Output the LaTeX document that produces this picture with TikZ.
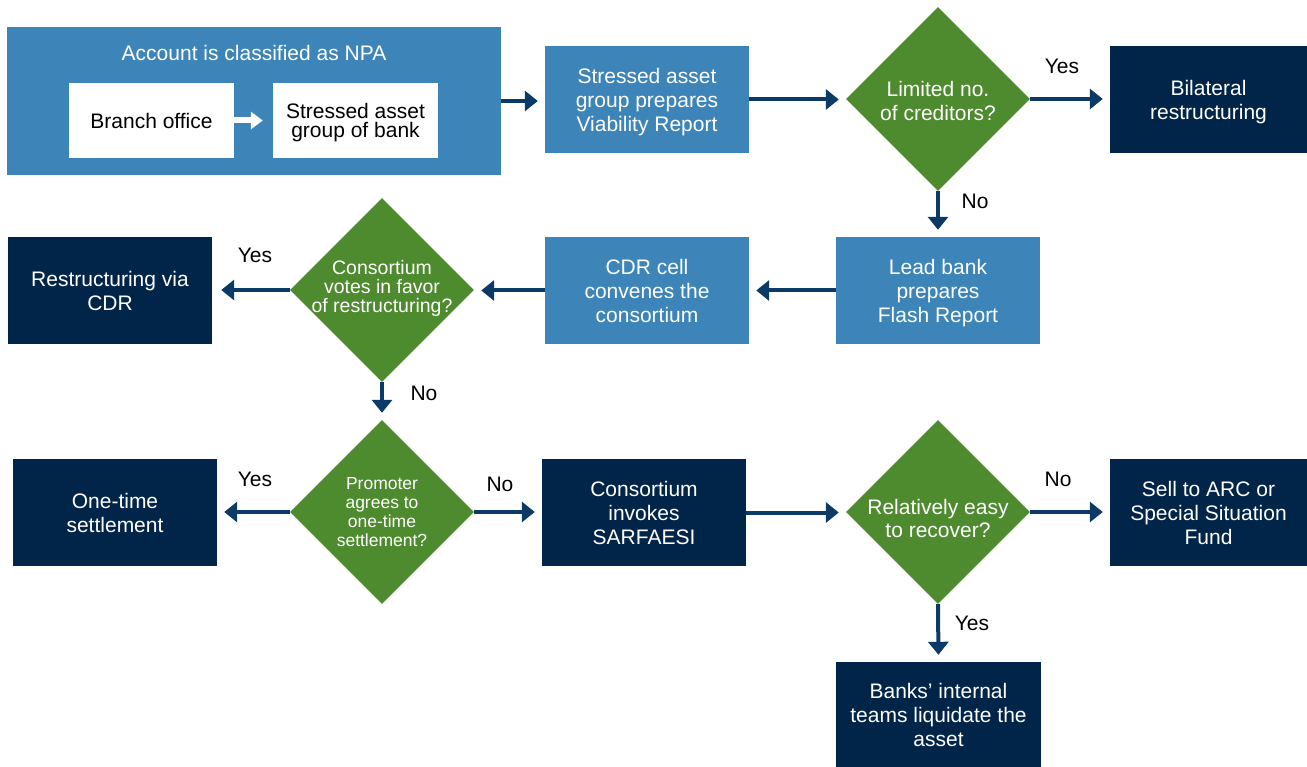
\documentclass[tikz,border=0pt]{standalone}
\usepackage{fontspec}
\setmainfont{Liberation Sans}
\usetikzlibrary{shapes.geometric,arrows.meta}
\definecolor{midblue}{HTML}{3D85B8}
\definecolor{navy}{HTML}{002549}
\definecolor{dgreen}{HTML}{4E8B2E}
\definecolor{arrowblue}{HTML}{0B3A66}
\tikzset{
  box/.style={rectangle, inner sep=0pt, align=center, font=\fontsize{21}{24}\selectfont},
  lightbox/.style={box, fill=midblue, text=white, text depth=-3pt},
  darkbox/.style={box, fill=navy, text=white, text depth=-3pt},
  whitebox/.style={box, fill=white, text=black, text depth=0pt},
  dec/.style={diamond, aspect=1, fill=dgreen, inner sep=0pt, minimum width=184pt, minimum height=184pt},
  dtext/.style={align=center, text=white, inner sep=0pt},
  lbl/.style={text=black, font=\fontsize{21}{24}\selectfont, inner sep=0pt},
  arr/.style={draw=arrowblue, line width=4pt, -{Triangle[width=20pt,length=13pt]}, shorten >=7pt},
  warr/.style={draw=white, line width=6pt, -{Triangle[width=17pt,length=12pt]}, shorten >=10pt},
}
\begin{document}
\begin{tikzpicture}[x=1pt,y=-1pt]
\useasboundingbox (0,0) rectangle (1307,767);
% top-left compound box
\node[lightbox, minimum width=494pt, minimum height=148pt] (outer) at (254,101) {};
\node[box, text=white] (title) at (254,53) {Account is classified as NPA};
\node[whitebox, minimum width=165pt, minimum height=75pt] (branch) at (151.5,120.5) {Branch office};
\node[whitebox, minimum width=165pt, minimum height=75pt, font=\fontsize{21}{19}\selectfont] (sag) at (355.5,120.5) {Stressed asset\\group of bank};
\draw[warr] (branch.east) -- (sag.west);
% row 1
\node[lightbox, minimum width=204pt, minimum height=107pt] (via) at (647,99.5) {Stressed asset\\group prepares\\Viability Report};
\node[dec] (d1) at (938,99) {};
\node[dtext, font=\fontsize{21}{24}\selectfont] (d1t) at (938,101) {Limited no.\\of creditors?};
\node[darkbox, minimum width=197pt, minimum height=107pt] (bil) at (1208.5,99.5) {Bilateral\\restructuring};
% row 2
\node[lightbox, minimum width=204pt, minimum height=107pt] (lead) at (938,290.5) {Lead bank\\prepares\\Flash Report};
\node[lightbox, minimum width=204pt, minimum height=107pt] (cdr) at (647,290.5) {CDR cell\\convenes the\\consortium};
\node[dec] (d2) at (382,290) {};
\node[dtext, font=\fontsize{19.5}{19}\selectfont] (d2t) at (382,288) {Consortium\\votes in favor\\of restructuring?};
\node[darkbox, minimum width=204pt, minimum height=107pt] (rcdr) at (110,290.5) {Restructuring via\\CDR};
% row 3
\node[dec] (d3) at (382,512) {};
\node[dtext, font=\fontsize{17.5}{19}\selectfont] (d3t) at (382,512) {Promoter\\agrees to\\one-time\\settlement?};
\node[darkbox, minimum width=204pt, minimum height=107pt] (ots) at (115,512.5) {One-time\\settlement};
\node[darkbox, minimum width=204pt, minimum height=107pt] (sarf) at (644,512.5) {Consortium\\invokes\\SARFAESI};
\node[dec] (d4) at (938,512) {};
\node[dtext, font=\fontsize{21}{23}\selectfont] (d4t) at (938,518) {Relatively easy\\to recover?};
\node[darkbox, minimum width=197pt, minimum height=107pt] (sell) at (1208.5,512.5) {Sell to ARC or\\Special Situation\\Fund};
\node[darkbox, minimum width=205pt, minimum height=105pt] (banks) at (938.5,714.5) {Banks’ internal\\teams liquidate the\\asset};
% connectors
\draw[arr] (outer.east) -- (outer.east -| via.west);
\draw[arr] (via.east) -- (via.east -| d1.west);
\draw[arr] (d1.south) -- (lead.north);
\draw[arr] (d1.east) -- (d1.east -| bil.west);
\draw[arr] (lead.west) -- (cdr.east);
\draw[arr] (cdr.west) -- (cdr.west -| d2.east);
\draw[arr, shorten >=9pt] (d2.west) -- (d2.west -| rcdr.east);
\draw[arr, shorten >=7pt] (d2.south) -- (d3.north);
\draw[arr] (d3.west) -- (d3.west -| ots.east);
\draw[arr] (d3.east) -- (d3.east -| sarf.west);
\draw[arr] (sarf.east) -- (sarf.east -| d4.west);
\draw[arr] (d4.east) -- (d4.east -| sell.west);
\draw[arr] (d4.south) -- (banks.north);
% labels
\node[lbl] (y1) at (1062,66) {Yes};
\node[lbl] (n1) at (975,201) {No};
\node[lbl] (y2) at (255,255) {Yes};
\node[lbl] (n2) at (424,393) {No};
\node[lbl] (y3) at (255,479) {Yes};
\node[lbl] (n3) at (500,484) {No};
\node[lbl] (n4) at (1058,479) {No};
\node[lbl] (y4) at (972,623) {Yes};
\end{tikzpicture}
\end{document}
